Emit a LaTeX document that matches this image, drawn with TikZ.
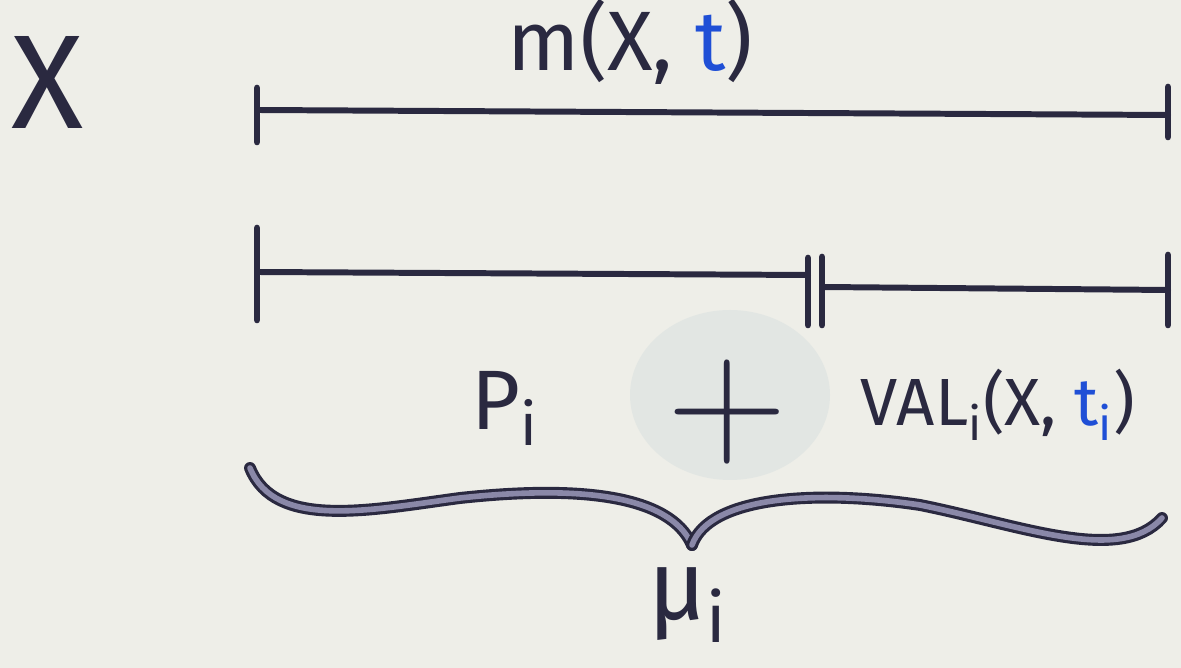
\documentclass[tikz,border=0pt]{standalone}
\usepackage{fontspec}
\setmainfont{Fira Sans}
\usepackage{tikz}
\usetikzlibrary{positioning, calc}
\definecolor{ink}{HTML}{2A2940}
\definecolor{inkblue}{HTML}{1F4FD6}
\definecolor{paper}{HTML}{EEEEE8}
\definecolor{smudge}{HTML}{BFD0D6}
\definecolor{marker}{HTML}{8A88A8}

\begin{document}
\begin{tikzpicture}[
        bar/.style   = {draw=ink, line width=1.7pt, line cap=round},
        tickmark/.style = {draw=ink, line width=1.9pt, line cap=round},
        lbl/.style   = {text=ink, inner sep=0pt, font=\fontsize{19}{22}\selectfont},
        bigl/.style  = {text=ink, inner sep=0pt, font=\fontsize{24}{28}\selectfont},
        brace/.style = {draw=ink, line width=0.9pt, double=marker, double distance=1.6pt, line cap=round},
    ]
        % paper and bounding box
        \fill[paper] (0,0) rectangle (11.81,-6.68);
        \useasboundingbox (0,0) rectangle (11.81,-6.68);
        \fill[smudge, opacity=0.25] (7.30,-3.95) ellipse (1.00 and 0.85);

        % the variable
        \node[text=ink, inner sep=0pt, font=\fontsize{38}{42}\selectfont] (cross) at (0.48,-0.83) {X};

        % upper bar
        \coordinate (a1) at (2.57,-1.10);
        \coordinate (a2) at (11.68,-1.15);
        \draw[bar] (a1) -- (a2);
        \draw[tickmark] ($(a1)+(0,0.22)$) -- ($(a1)+(0,-0.32)$);
        \draw[tickmark] ($(a2)+(0,0.28)$) -- ($(a2)+(0,-0.22)$);
        \node[lbl, font=\fontsize{24}{28}\selectfont, above=0.27 of $(a1)!0.41!(a2)$] (mlabel) {m(X, \textcolor{inkblue}{t})};

        % lower bar, split in two
        \coordinate (b1) at (2.57,-2.72);
        \coordinate (b2) at (8.08,-2.75);
        \coordinate (b3) at (8.22,-2.87);
        \coordinate (b4) at (11.68,-2.90);
        \draw[bar] (b1) -- (b2);
        \draw[bar] (b3) -- (b4);
        \draw[tickmark] ($(b1)+(0,0.44)$) -- ($(b1)+(0,-0.48)$);
        \draw[tickmark] ($(b2)+(0,0.17)$) -- ($(b2)+(0,-0.50)$);
        \draw[tickmark] ($(b3)+(0,0.30)$) -- ($(b3)+(0,-0.38)$);
        \draw[tickmark] ($(b4)+(0,0.35)$) -- ($(b4)+(0,-0.35)$);

        % the sum
        \node[bigl] (pterm) at (5.05,-4.08) {P\textsubscript{i}};
        \node[bigl] (plus) at (7.27,-4.12) {\scalebox{1.9}{$+$}};
        \node[lbl] (valterm) at (9.98,-4.05) {VAL\textsubscript{i}(X, \textcolor{inkblue}{t\textsubscript{i}})};

        % brace
        \coordinate (c1) at (2.50,-4.68);
        \coordinate (ctip) at (6.92,-5.45);
        \coordinate (c2) at (11.62,-5.18);
        \draw[brace] (c1) .. controls (2.75,-5.30) and (3.70,-5.10) .. (4.60,-4.98)
            .. controls (5.80,-4.85) and (6.70,-4.95) .. (ctip);
        \draw[brace] (ctip) .. controls (7.10,-4.95) and (8.20,-4.90) .. (9.20,-5.05)
            .. controls (10.20,-5.25) and (11.20,-5.65) .. (c2);
        \node[bigl, font=\fontsize{28}{32}\selectfont] (muterm) at (6.88,-6.05) {μ\textsubscript{i}};
    \end{tikzpicture}
\end{document}
